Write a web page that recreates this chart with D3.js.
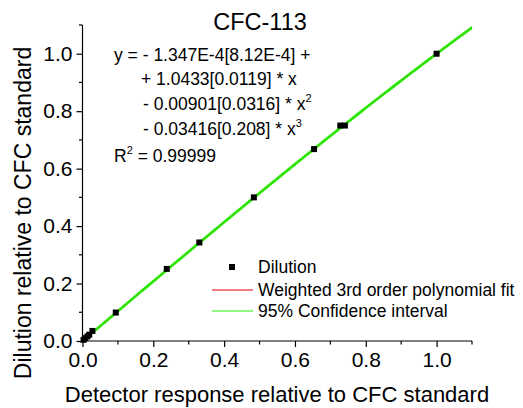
<!DOCTYPE html>
<html>
<head>
<meta charset="utf-8">
<script src="https://cdn.jsdelivr.net/npm/d3@7"></script>
<style>
  html, body { margin: 0; padding: 0; background: #fff; }
  svg { display: block; font-family: "Liberation Sans", Arial, sans-serif; }
</style>
</head>
<body>
<svg id="chart" width="523" height="408"></svg>
<script>
// Calibration points: detector response vs. dilution
const detectorResponse = [0.003, 0.008, 0.014, 0.019, 0.028, 0.094, 0.238, 0.330, 0.484, 0.654, 0.728, 0.741, 1.000];
const dilution         = [0.004, 0.010, 0.016, 0.022, 0.035, 0.099, 0.251, 0.343, 0.500, 0.668, 0.750, 0.750, 1.000];

// Weighted 3rd order polynomial coefficients (c0..c3) and standard errors
const fitCoefficients = [-1.347e-4, 1.0433, -0.00901, -0.03416];
const fitErrors = ["8.12E-4", "0.0119", "0.0316", "0.208"];
const rSquared = "0.99999";
const ciHalfWidth = 0.003;

const xTicks = [0, 0.2, 0.4, 0.6, 0.8, 1.0];
const yTicks = [0, 0.2, 0.4, 0.6, 0.8, 1.0];
const minorTicks = [0.1, 0.3, 0.5, 0.7, 0.9, 1.1];

(function () {
const svg = d3.select("#chart");
const mLeft = 82.5, mRight = 472, mTop = 25, mBottom = 341;

const x = d3.scaleLinear().domain([0, 1.1]).range([mLeft, mRight]);
const y = d3.scaleLinear().domain([0, 1.1]).range([mBottom, mTop]);

const poly = v => fitCoefficients.reduce((s, c, i) => s + c * Math.pow(v, i), 0);
const samples = d3.range(0, 1.1001, 0.01);

// Axes
const xAxis = d3.axisBottom(x).tickValues(xTicks).tickFormat(d3.format(".1f")).tickSize(6).tickSizeOuter(0).tickPadding(5);
const yAxis = d3.axisLeft(y).tickValues(yTicks).tickFormat(d3.format(".1f")).tickSize(6).tickSizeOuter(0).tickPadding(4);

const gx = svg.append("g").attr("transform", `translate(0,${mBottom})`).call(xAxis);
const gy = svg.append("g").attr("transform", `translate(${mLeft},0)`).call(yAxis);
[gx, gy].forEach(g => {
  g.select(".domain").attr("stroke", "#000").attr("stroke-width", 1.2);
  g.selectAll(".tick line").attr("stroke", "#000").attr("stroke-width", 1.2);
  g.selectAll(".tick text").attr("font-size", 21).attr("fill", "#000")
    .attr("font-family", "Liberation Sans, Arial, sans-serif");
});
// extend domains to the axis ends
gx.select(".domain").attr("d", `M${mLeft},0H${mRight}`);
gy.select(".domain").attr("d", `M0,${mBottom}V${mTop}`);

gx.selectAll(".minor").data(minorTicks).enter().append("line")
  .attr("x1", d => x(d)).attr("x2", d => x(d)).attr("y1", 0).attr("y2", 3.5)
  .attr("stroke", "#000").attr("stroke-width", 1.2);
gy.selectAll(".minor").data(minorTicks).enter().append("line")
  .attr("y1", d => y(d)).attr("y2", d => y(d)).attr("x1", 0).attr("x2", -3.5)
  .attr("stroke", "#000").attr("stroke-width", 1.2);

// Fit curve and confidence band
const line = d3.line().x(d => x(d[0])).y(d => y(d[1]));
svg.append("path").datum(samples.map(v => [v, poly(v)]))
  .attr("d", line).attr("fill", "none").attr("stroke", "#e00000").attr("stroke-width", 1);
[-ciHalfWidth, ciHalfWidth].forEach(off => {
  svg.append("path").datum(samples.map(v => [v, poly(v) + off]))
    .attr("d", line).attr("fill", "none").attr("stroke", "#22ee00").attr("stroke-width", 1.4);
});

// Data points
svg.append("g").selectAll("rect").data(detectorResponse).enter().append("rect")
  .attr("x", (d) => x(d) - 3).attr("y", (d, i) => y(dilution[i]) - 3)
  .attr("width", 6).attr("height", 6).attr("fill", "#000");

// Title
svg.append("text").attr("x", 260).attr("y", 30).attr("text-anchor", "middle")
  .attr("font-size", 23.5).text("CFC-113");

// Fit equation
const eq = svg.append("g").attr("font-size", 17.5).attr("fill", "#000");
eq.append("text").attr("x", 114).attr("y", 61)
  .text(`y = - 1.347E-4[${fitErrors[0]}] +`);
eq.append("text").attr("x", 141).attr("y", 85)
  .text(`+ ${fitCoefficients[1].toFixed(4)}[${fitErrors[1]}] * x`);
const t3 = eq.append("text").attr("x", 143).attr("y", 110)
  .text(`- ${Math.abs(fitCoefficients[2]).toFixed(5)}[${fitErrors[2]}] * x`);
t3.append("tspan").attr("dy", -8).attr("font-size", 11).text("2");
const t4 = eq.append("text").attr("x", 143).attr("y", 135)
  .text(`- ${Math.abs(fitCoefficients[3]).toFixed(5)}[${fitErrors[3]}] * x`);
t4.append("tspan").attr("dy", -8).attr("font-size", 11).text("3");
const t5 = eq.append("text").attr("x", 114).attr("y", 162).text("R");
t5.append("tspan").attr("dy", -8).attr("font-size", 11).text("2");
t5.append("tspan").attr("dy", 8).text(` = ${rSquared}`);

// Legend
const lg = svg.append("g").attr("font-size", 17.5);
lg.append("rect").attr("x", 229).attr("y", 264).attr("width", 6).attr("height", 6).attr("fill", "#000");
lg.append("text").attr("x", 258).attr("y", 273).text("Dilution");
lg.append("line").attr("x1", 212).attr("x2", 253).attr("y1", 290).attr("y2", 290)
  .attr("stroke", "#e00000").attr("stroke-width", 1);
lg.append("text").attr("x", 258).attr("y", 296).text("Weighted 3rd order polynomial fit");
lg.append("line").attr("x1", 212).attr("x2", 253).attr("y1", 311).attr("y2", 311)
  .attr("stroke", "#22ee00").attr("stroke-width", 1);
lg.append("text").attr("x", 258).attr("y", 317).text("95% Confidence interval");

// Axis titles
svg.append("text").attr("x", 277).attr("y", 402).attr("text-anchor", "middle")
  .attr("font-size", 22).text("Detector response relative to CFC standard");
svg.append("text").attr("transform", `translate(31,213) rotate(-90)`)
  .attr("text-anchor", "middle").attr("font-size", 23).text("Dilution relative to CFC standard");
})();
</script>
</body>
</html>
